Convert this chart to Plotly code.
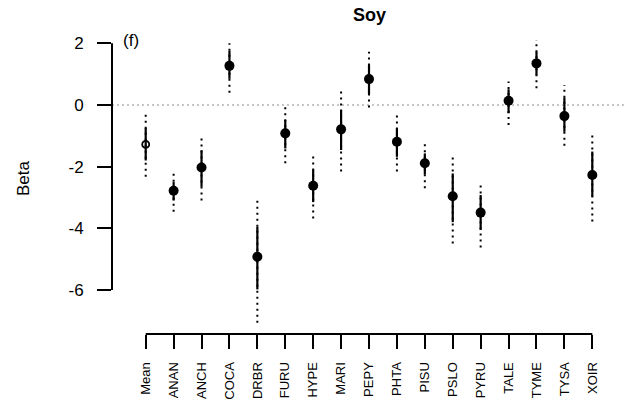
import plotly.graph_objects as go

# Species effect estimates (Beta) for soy, with inner and outer intervals
species = ["Mean", "ANAN", "ANCH", "COCA", "DRBR", "FURU", "HYPE", "MARI", "PEPY",
           "PHTA", "PISU", "PSLO", "PYRU", "TALE", "TYME", "TYSA", "XOIR"]
beta = [-1.28, -2.78, -2.03, 1.27, -4.92, -0.92, -2.62, -0.79, 0.84,
        -1.19, -1.89, -2.96, -3.49, 0.14, 1.35, -0.36, -2.27]
inner_hi = [-0.75, -2.50, -1.47, 1.76, -3.95, -0.49, -2.10, -0.16, 1.30,
            -0.76, -1.57, -2.22, -2.92, 0.51, 1.73, 0.24, -1.51]
inner_lo = [-1.80, -3.10, -2.65, 0.85, -5.98, -1.41, -3.15, -1.46, 0.35,
            -1.68, -2.25, -3.80, -4.05, -0.27, 0.97, -0.87, -2.97]
outer_hi = [-0.30, -2.11, -1.03, 2.00, -3.08, -0.05, -1.63, 0.51, 1.73,
            -0.32, -1.27, -1.59, -2.59, 0.76, 2.11, 0.65, -0.87]
outer_lo = [-2.33, -3.46, -3.10, 0.40, -7.06, -1.89, -3.68, -2.16, -0.08,
            -2.16, -2.70, -4.49, -4.62, -0.65, 0.54, -1.32, -3.78]
y_ticks = [-6, -4, -2, 0, 2]

pos = list(range(1, len(species) + 1))
FONT = "Liberation Sans, Arial, sans-serif"


def segments(lo, hi):
    xs, ys = [], []
    for x, a, b in zip(pos, lo, hi):
        xs += [x, x, None]
        ys += [a, b, None]
    return xs, ys


fig = go.Figure()

# outer interval (dotted)
ox, oy = segments(outer_lo, outer_hi)
fig.add_trace(go.Scatter(x=ox, y=oy, mode="lines", hoverinfo="skip",
                         line=dict(color="black", width=2, dash="2px,4px")))
# inner interval (solid)
ix, iy = segments(inner_lo, inner_hi)
fig.add_trace(go.Scatter(x=ix, y=iy, mode="lines", hoverinfo="skip",
                         line=dict(color="black", width=2.2)))
# overall mean: open circle
fig.add_trace(go.Scatter(x=pos[:1], y=beta[:1], mode="markers",
                         marker=dict(symbol="circle-open", size=7, color="black",
                                     line=dict(width=1.8))))
# species estimates: filled circles
fig.add_trace(go.Scatter(x=pos[1:], y=beta[1:], mode="markers",
                         marker=dict(symbol="circle", size=10, color="black")))

# reference line at zero
fig.add_shape(type="line", xref="paper", yref="y", x0=0, x1=1, y0=0, y1=0,
              line=dict(color="#b4b4b4", width=1.5, dash="2px,3px"), layer="below")
# axis lines spanning only the tick range
fig.add_shape(type="line", xref="paper", yref="y", x0=0, x1=0,
              y0=min(y_ticks), y1=max(y_ticks), line=dict(color="black", width=2))
fig.add_shape(type="line", xref="x", yref="paper", x0=pos[0], x1=pos[-1],
              y0=0, y1=0, line=dict(color="black", width=2))

fig.add_annotation(text="Soy", xref="paper", yref="paper", x=(369 - 112) / 515,
                   y=1, yshift=14, xanchor="center", yanchor="middle", showarrow=False,
                   font=dict(family=FONT, size=18, color="black", weight="bold"))
fig.add_annotation(text="(f)", xref="paper", yref="paper", x=(131 - 112) / 515,
                   y=1, yshift=-11, xanchor="center", yanchor="middle", showarrow=False,
                   font=dict(family=FONT, size=17, color="black"))
fig.add_annotation(text="Beta", xref="paper", yref="paper", x=0, xshift=-89,
                   y=(334 - 178) / 305, xanchor="center", yanchor="middle",
                   showarrow=False, textangle=-90,
                   font=dict(family=FONT, size=17, color="black"))

fig.update_layout(
    width=635, height=415,
    margin=dict(l=112, r=8, t=29, b=81),
    paper_bgcolor="white", plot_bgcolor="white",
    showlegend=False,
    font=dict(family=FONT, color="black"),
    xaxis=dict(range=[-0.2075, 18.243], tickmode="array", tickvals=pos,
               ticktext=species, tickangle=-90, ticks="outside", ticklen=14,
               tickwidth=2, tickcolor="black", showgrid=False, zeroline=False,
               showline=False, tickfont=dict(size=13, family=FONT),
               ticklabelstandoff=8),
    yaxis=dict(range=[-7.428, 2.465], tickmode="array", tickvals=y_ticks,
               ticktext=[str(v) for v in y_ticks],
               ticks="outside", ticklen=14, tickwidth=2, tickcolor="black",
               showgrid=False, zeroline=False, showline=False,
               tickfont=dict(size=17, family=FONT), ticklabelstandoff=10),
)

fig.write_html("out.html")
